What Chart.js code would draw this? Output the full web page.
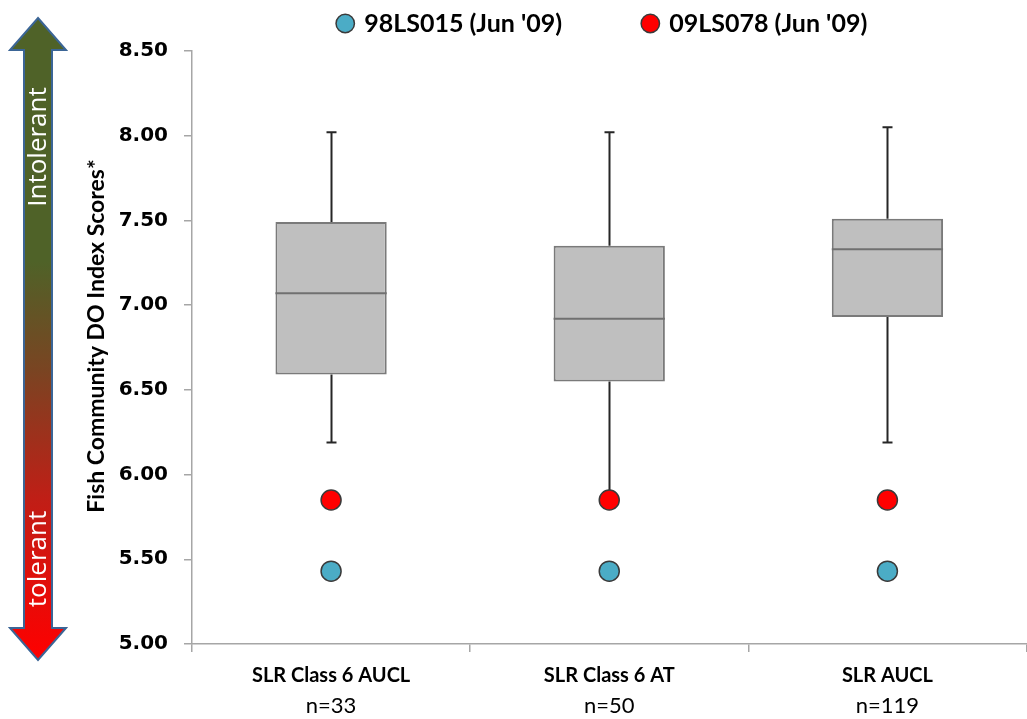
<!DOCTYPE html>
<html>
<head>
<meta charset="utf-8">
<script src="https://cdn.jsdelivr.net/npm/chart.js@4/dist/chart.umd.min.js"></script>
<style>
    html, body { margin: 0; padding: 0; background: #fff; overflow: hidden; }
    #wrap { position: relative; width: 1038px; height: 719px; }
</style>
</head>
<body>
<div id="wrap"><canvas id="chart"></canvas></div>
<script>
// --- DATA ---
const categories = ['SLR Class 6 AUCL', 'SLR Class 6 AT', 'SLR AUCL'];
const sampleSizes = ['n=33', 'n=50', 'n=119'];
const whiskerLow = [6.19, 5.89, 6.19];
const q1 = [6.59, 6.55, 6.93];
const median = [7.07, 6.92, 7.33];
const q3 = [7.49, 7.35, 7.51];
const whiskerHigh = [8.02, 8.02, 8.05];
const site98LS015 = [5.43, 5.43, 5.43];
const site09LS078 = [5.85, 5.85, 5.85];
const seriesNames = ["98LS015 (Jun '09)", "09LS078 (Jun '09)"];
const yMin = 5.0, yMax = 8.5, yStep = 0.5;

const AXIS_GRAY = '#A6A6A6';

// decorative tolerance arrow on the left
const toleranceArrow = {
    id: 'toleranceArrow',
    beforeDraw: (chart) => {
        const ctx = chart.ctx;
        const cx = 38, top = 18, bot = 660, head = 32, hw = 28, sw = 14;
        ctx.save();
        ctx.beginPath();
        ctx.moveTo(cx, top);
        ctx.lineTo(cx + hw, top + head);
        ctx.lineTo(cx + sw, top + head);
        ctx.lineTo(cx + sw, bot - head);
        ctx.lineTo(cx + hw, bot - head);
        ctx.lineTo(cx, bot);
        ctx.lineTo(cx - hw, bot - head);
        ctx.lineTo(cx - sw, bot - head);
        ctx.lineTo(cx - sw, top + head);
        ctx.lineTo(cx - hw, top + head);
        ctx.closePath();
        const g = ctx.createLinearGradient(0, top, 0, bot);
        g.addColorStop(0, '#4F6228');
        g.addColorStop(0.38, '#4F6228');
        g.addColorStop(0.55, '#7A4422');
        g.addColorStop(0.75, '#C01E16');
        g.addColorStop(1, '#FF0000');
        ctx.fillStyle = g;
        ctx.fill();
        ctx.lineWidth = 2;
        ctx.strokeStyle = '#3B6596';
        ctx.stroke();

        ctx.fillStyle = '#fff';
        ctx.font = '26px "Open Sans"';
        ctx.textAlign = 'center';
        ctx.textBaseline = 'middle';
        [['Intolerant', 147], ['tolerant', 559]].forEach(([txt, cy]) => {
            ctx.save();
            ctx.translate(cx + 1, cy);
            ctx.rotate(-Math.PI / 2);
            ctx.fillText(txt, 0, 0);
            ctx.restore();
        });
        ctx.restore();
    }
};

// whiskers (behind) and medians (on top of box)
const boxExtras = {
    id: 'boxExtras',
    beforeDatasetsDraw: (chart) => {
        const ctx = chart.ctx;
        const y = chart.scales.y;
        const bars = chart.getDatasetMeta(0).data;
        ctx.save();
        ctx.strokeStyle = '#262626';
        ctx.lineWidth = 2;
        bars.forEach((bar, i) => {
            const x = Math.round(bar.x) + 0.5;
            const pairs = [[q3[i], whiskerHigh[i]], [q1[i], whiskerLow[i]]];
            pairs.forEach(([from, to]) => {
                ctx.beginPath();
                ctx.moveTo(x, y.getPixelForValue(from));
                ctx.lineTo(x, y.getPixelForValue(to));
                ctx.moveTo(x - 5, y.getPixelForValue(to));
                ctx.lineTo(x + 5, y.getPixelForValue(to));
                ctx.stroke();
            });
        });
        ctx.restore();
    },
    afterDatasetsDraw: (chart) => {
        const ctx = chart.ctx;
        const y = chart.scales.y;
        const bars = chart.getDatasetMeta(0).data;
        ctx.save();
        ctx.strokeStyle = '#707070';
        ctx.lineWidth = 2;
        bars.forEach((bar, i) => {
            const py = y.getPixelForValue(median[i]);
            ctx.beginPath();
            ctx.moveTo(bar.x - bar.width / 2, py);
            ctx.lineTo(bar.x + bar.width / 2, py);
            ctx.stroke();
        });
        ctx.restore();
    }
};

// second line of category labels (sample sizes), regular weight
const sampleSizeLabels = {
    id: 'sampleSizeLabels',
    afterDraw: (chart) => {
        const ctx = chart.ctx;
        const xs = chart.scales.x;
        ctx.save();
        ctx.fillStyle = '#000';
        ctx.font = '22px Lato';
        ctx.textAlign = 'center';
        ctx.textBaseline = 'middle';
        sampleSizes.forEach((txt, i) => {
            ctx.fillText(txt, xs.getPixelForValue(i), chart.chartArea.bottom + 62);
        });
        ctx.restore();
    }
};

new Chart(document.getElementById('chart'), {
    data: {
        labels: categories,
        datasets: [
            {
                type: 'bar',
                label: 'box',
                data: categories.map((_, i) => [q1[i], q3[i]]),
                backgroundColor: '#BFBFBF',
                borderColor: '#7A7A7A',
                borderWidth: 2,
                borderSkipped: false,
                categoryPercentage: 1,
                barPercentage: 0.4,
                order: 3
            },
            {
                type: 'line',
                label: seriesNames[0],
                data: site98LS015,
                showLine: false,
                pointRadius: 10,
                pointHoverRadius: 10,
                pointBackgroundColor: '#4BACC6',
                backgroundColor: '#4BACC6',
                pointBorderColor: '#3A3A3A',
                borderColor: '#3A3A3A',
                pointBorderWidth: 1.5,
                borderWidth: 1.5,
                order: 1
            },
            {
                type: 'line',
                label: seriesNames[1],
                data: site09LS078,
                showLine: false,
                pointRadius: 10,
                pointHoverRadius: 10,
                pointBackgroundColor: '#FF0000',
                backgroundColor: '#FF0000',
                pointBorderColor: '#3A3A3A',
                borderColor: '#3A3A3A',
                pointBorderWidth: 1.5,
                borderWidth: 1.5,
                order: 2
            }
        ]
    },
    options: {
        responsive: true,
        maintainAspectRatio: false,
        animation: false,
        layout: { padding: { top: -5, bottom: 19 } },
        plugins: {
            tooltip: { enabled: false },
            legend: {
                position: 'top',
                fullSize: false,
                labels: {
                    usePointStyle: true,
                    pointStyle: 'circle',
                    boxWidth: 13,
                    boxHeight: 13,
                    padding: 16,
                    color: '#000',
                    font: { family: 'Lato', size: 25, weight: 'bold' },
                    filter: (item) => item.datasetIndex > 0,
                    generateLabels: (chart) => {
                        const items = Chart.defaults.plugins.legend.labels.generateLabels(chart);
                        items.forEach(it => {
                            if (it.datasetIndex === 1) it.text = it.text + '\u2003\u2003\u2003\u2005\u2009';
                            if (it.datasetIndex === 2) it.text = it.text + '\u2002';
                        });
                        return items;
                    }
                }
            }
        },
        scales: {
            // empty spacer between legend and plot area
            xTopGap: {
                type: 'category',
                position: 'top',
                offset: true,
                grid: { display: false, drawTicks: false },
                border: { display: false },
                ticks: { display: false },
                title: {
                    display: true,
                    text: '',
                    padding: { top: 2, bottom: 2 },
                    font: { size: 1, lineHeight: 1 }
                }
            },
            x: {
                type: 'category',
                position: 'bottom',
                offset: true,
                grid: {
                    display: true,
                    offset: true,
                    drawOnChartArea: false,
                    drawTicks: true,
                    tickLength: 8,
                    color: AXIS_GRAY,
                    lineWidth: 1.5
                },
                border: { display: true, color: AXIS_GRAY, width: 1.5 },
                ticks: {
                    color: '#000',
                    padding: 12,
                    font: { family: 'Lato', size: 20, weight: 'bold' }
                }
            },
            y: {
                min: yMin,
                max: yMax,
                afterFit: (scale) => { scale.width = 192; },
                grid: {
                    display: true,
                    drawOnChartArea: false,
                    drawTicks: true,
                    tickLength: 8,
                    color: AXIS_GRAY,
                    lineWidth: 1.5
                },
                border: { display: true, color: AXIS_GRAY, width: 1.5 },
                ticks: {
                    stepSize: yStep,
                    padding: 16,
                    color: '#000',
                    font: { family: 'DejaVu Sans', size: 20, weight: 'bold' },
                    callback: (v) => Number(v).toFixed(2)
                },
                title: {
                    display: true,
                    text: '\u2002\u2002Fish Community DO Index Scores*',
                    color: '#000',
                    padding: { top: 83, bottom: 0 },
                    font: { family: 'Lato', size: 23, weight: 'bold' }
                }
            }
        }
    },
    plugins: [toleranceArrow, boxExtras, sampleSizeLabels]
});
</script>
</body>
</html>
